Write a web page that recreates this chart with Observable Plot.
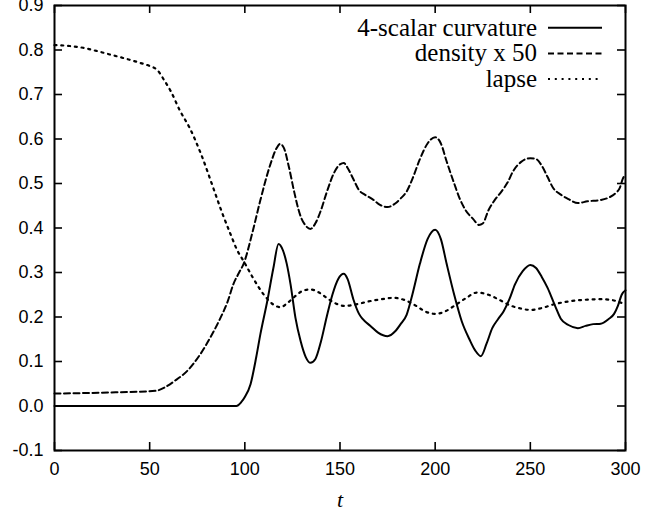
<!DOCTYPE html>
<html><head><meta charset="utf-8">
<script src="https://cdn.jsdelivr.net/npm/d3@7"></script>
<script src="https://cdn.jsdelivr.net/npm/@observablehq/plot@0.6"></script>
<style>body{margin:0;background:#fff} #chart{width:646px;height:514px}</style>
</head><body><div id="chart"></div>
<script>
const xTicks = [0, 50, 100, 150, 200, 250, 300];
const yTicks = [-0.1, 0, 0.1, 0.2, 0.3, 0.4, 0.5, 0.6, 0.7, 0.8, 0.9];
const seriesNames = ["4-scalar curvature", "density x 50", "lapse"];
const xLabel = "t";

const curvT = [0, 50, 90, 95.6, 98, 100, 103, 106, 108.2, 111.8, 115, 117.7, 120, 122, 124, 126.6, 129.3, 132, 134.5, 137, 140, 143, 146, 149, 152, 154, 157, 160, 162, 166, 170, 175, 179, 182, 185, 188, 192, 196, 200, 203, 206, 210, 214, 218, 221, 224, 227, 230, 233, 236, 239, 242, 246, 250, 253, 256, 259, 263, 266, 270, 275, 279, 283, 287, 291, 294, 296, 298, 300];
const curvV = [0, 0, 0, 0, 0.008, 0.02, 0.049, 0.11, 0.162, 0.236, 0.31, 0.364, 0.35, 0.32, 0.274, 0.198, 0.146, 0.11, 0.097, 0.105, 0.145, 0.2, 0.25, 0.285, 0.297, 0.285, 0.24, 0.207, 0.195, 0.18, 0.165, 0.157, 0.168, 0.185, 0.205, 0.25, 0.32, 0.375, 0.396, 0.375, 0.32, 0.25, 0.19, 0.15, 0.125, 0.112, 0.14, 0.175, 0.195, 0.213, 0.24, 0.274, 0.303, 0.317, 0.31, 0.29, 0.266, 0.225, 0.196, 0.182, 0.175, 0.18, 0.184, 0.185, 0.195, 0.207, 0.225, 0.25, 0.26];

const densT = [0, 25, 53, 58, 63, 70, 76.7, 82, 87.2, 91, 94, 97, 99.3, 104, 108, 113.5, 116.5, 118.5, 120.5, 123, 126, 129, 132, 134.5, 137, 140, 143, 147, 150, 152, 154, 157, 160, 163, 167, 171, 175, 179, 182, 185, 188, 192, 196, 200, 203, 206, 210, 213, 216, 220, 223, 225, 228, 231, 235, 238, 241, 245, 250, 253, 256, 259, 262, 266, 270, 275, 280, 287, 291, 295, 297, 298.5, 300];
const densV = [0.028, 0.03, 0.034, 0.042, 0.056, 0.08, 0.117, 0.155, 0.198, 0.235, 0.274, 0.3, 0.319, 0.39, 0.46, 0.544, 0.578, 0.589, 0.58, 0.54, 0.48, 0.43, 0.405, 0.398, 0.41, 0.44, 0.48, 0.525, 0.543, 0.546, 0.535, 0.51, 0.485, 0.475, 0.465, 0.452, 0.447, 0.455, 0.467, 0.482, 0.51, 0.555, 0.59, 0.604, 0.59, 0.55, 0.5, 0.465, 0.44, 0.42, 0.407, 0.41, 0.44, 0.461, 0.483, 0.502, 0.528, 0.548, 0.557, 0.555, 0.54, 0.515, 0.49, 0.475, 0.465, 0.456, 0.46, 0.463, 0.468, 0.479, 0.49, 0.51, 0.52];

const lapseT = [0, 8, 15, 22, 29, 37, 45, 50, 54, 57.5, 61, 66, 71, 77, 84, 88, 92.5, 96, 99.3, 104, 110, 115, 118.7, 122, 126, 130, 134.5, 139, 144, 148, 152, 158, 165, 172, 178, 184, 190, 195, 200, 205, 210, 216, 222, 228, 234, 240, 245, 250, 256, 262, 270, 280, 287, 293, 297, 300];
const lapseV = [0.811, 0.809, 0.805, 0.798, 0.79, 0.781, 0.771, 0.764, 0.755, 0.733, 0.708, 0.663, 0.625, 0.566, 0.483, 0.435, 0.386, 0.35, 0.326, 0.29, 0.25, 0.228, 0.222, 0.23, 0.245, 0.258, 0.262, 0.255, 0.24, 0.23, 0.225, 0.228, 0.235, 0.24, 0.243, 0.238, 0.225, 0.212, 0.207, 0.212, 0.225, 0.242, 0.255, 0.25, 0.238, 0.225, 0.219, 0.216, 0.22, 0.228, 0.235, 0.239, 0.24, 0.238, 0.233, 0.228];

const toRows = (ts, vs) => ts.map((t, i) => ({t, v: vs[i]}));
const curv = toRows(curvT, curvV);
const dens = toRows(densT, densV);
const lapse = toRows(lapseT, lapseV);

const styles = [
  {dash: null},
  {dash: "6,3.5"},
  {dash: "2,4.8"}
];

const W = 646, H = 514, mL = 54, mR = 21, mT = 5, mB = 64;
const innerW = W - mL - mR, innerH = H - mT - mB;
const tk = 8;

const plot = Plot.plot({
  width: W, height: H,
  marginLeft: mL, marginRight: mR, marginTop: mT, marginBottom: mB,
  style: {fontFamily: "'Liberation Sans', Arial, sans-serif", fontSize: "18px", color: "#000", background: "#fff", overflow: "visible"},
  x: {domain: [0, 300]},
  y: {domain: [-0.1, 0.9]},
  marks: [
    Plot.line(lapse, {x: "t", y: "v", curve: "monotone-x", stroke: "#000", strokeWidth: 2.2, strokeDasharray: styles[2].dash}),
    Plot.line(dens, {x: "t", y: "v", curve: "monotone-x", stroke: "#000", strokeWidth: 2, strokeDasharray: styles[1].dash}),
    Plot.line(curv, {x: "t", y: "v", curve: "monotone-x", stroke: "#000", strokeWidth: 2}),
    Plot.tickX(xTicks, {x: d => d, insetTop: innerH - tk, stroke: "#000", strokeWidth: 1.6}),
    Plot.tickX(xTicks, {x: d => d, insetBottom: innerH - tk, stroke: "#000", strokeWidth: 1.6}),
    Plot.tickY(yTicks, {y: d => d, insetRight: innerW - tk, stroke: "#000", strokeWidth: 1.6}),
    Plot.tickY(yTicks, {y: d => d, insetLeft: innerW - tk, stroke: "#000", strokeWidth: 1.6}),
    Plot.axisX({ticks: xTicks, tickSize: 0, tickPadding: 12, label: null, fontSize: 18}),
    Plot.axisY({ticks: yTicks, tickSize: 0, tickPadding: 11, label: null, fontSize: 18, tickFormat: d => d.toFixed(1)}),
    Plot.frame({stroke: "#000", strokeWidth: 2}),
    Plot.text([xLabel], {text: d => d, frameAnchor: "bottom", dy: 49, lineAnchor: "middle", fontStyle: "italic", fontFamily: "'Liberation Serif', 'Times New Roman', serif", fontSize: 22})
  ]
});

// legend (inside the plot, top right, gnuplot style)
const svg = d3.select(plot);
const lg = svg.append("g")
  .attr("font-family", "'Liberation Serif', 'Times New Roman', serif")
  .attr("font-size", 25)
  .attr("fill", "#000");
const textRight = W - mR - 88, lineX1 = W - mR - 77, lineX2 = W - mR - 23;
seriesNames.forEach((name, i) => {
  const y = mT + 22.7 + i * 25.7;
  lg.append("text").attr("x", textRight).attr("y", y).attr("dy", "0.32em")
    .attr("text-anchor", "end").text(name);
  const ln = lg.append("line").attr("x1", lineX1).attr("x2", lineX2).attr("y1", y).attr("y2", y)
    .attr("stroke", "#000").attr("stroke-width", 2);
  if (styles[i].dash) ln.attr("stroke-dasharray", styles[i].dash);
});

document.getElementById("chart").appendChild(plot);
</script>
</body></html>
